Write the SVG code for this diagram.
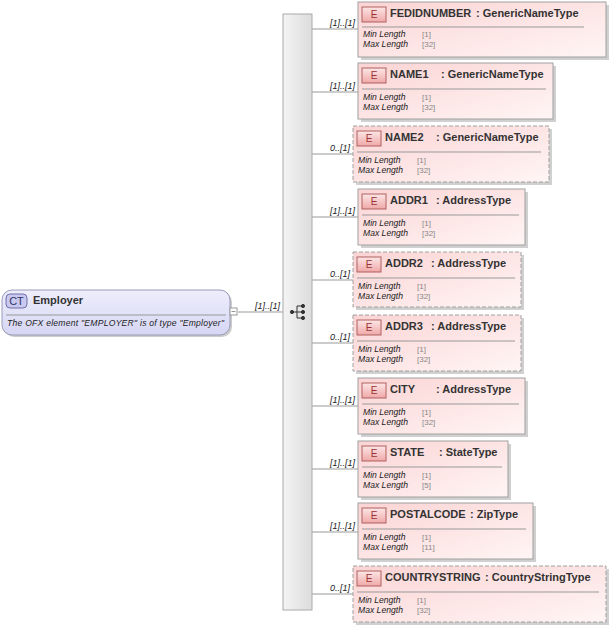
<svg xmlns="http://www.w3.org/2000/svg" width="610" height="628" viewBox="0 0 610 628">
<defs>
<linearGradient id="eg" x1="0" y1="0" x2="1" y2="1"><stop offset="0" stop-color="#fbd4d4"/><stop offset="1" stop-color="#fff5f5"/></linearGradient>
<linearGradient id="cg" x1="0" y1="0" x2="0" y2="1"><stop offset="0" stop-color="#eeeefc"/><stop offset="1" stop-color="#d6d6f4"/></linearGradient>
<linearGradient id="sg" x1="0" y1="0" x2="1" y2="0"><stop offset="0" stop-color="#f4f4f4"/><stop offset="1" stop-color="#dcdcdc"/></linearGradient>
<linearGradient id="bg" x1="0" y1="0" x2="0" y2="1"><stop offset="0" stop-color="#fce6e6"/><stop offset="1" stop-color="#f0a8a8"/></linearGradient>
</defs>
<style>
text{font-family:"Liberation Sans",Arial,sans-serif}
.box{fill:url(#eg);stroke:#a0a0a0;stroke-width:1}
.opt{stroke-dasharray:4,2}
.sh{fill:#d0d0d0}
.t{font-size:11px;font-weight:bold;fill:#333}
.f{font-size:8.6px;font-style:italic;fill:#222}
.v{font-size:8px;fill:#888}
.m{font-size:9px;font-style:italic;fill:#222}
.conn{stroke:#999;stroke-width:1;fill:none}
.badge{fill:url(#bg);stroke:#b06060}
.bt{font-size:10px;fill:#933;text-anchor:middle}
.sep{stroke:#999}
</style>
<g id="connectors">
<line class="conn" x1="238" y1="312" x2="283" y2="312"/>
<line class="conn" x1="312" y1="29" x2="358" y2="29"/>
<line class="conn" x1="312" y1="92" x2="358" y2="92"/>
<line class="conn" x1="312" y1="154" x2="353" y2="154"/>
<line class="conn" x1="312" y1="217" x2="358" y2="217"/>
<line class="conn" x1="312" y1="280" x2="353" y2="280"/>
<line class="conn" x1="312" y1="343" x2="353" y2="343"/>
<line class="conn" x1="312" y1="406" x2="358" y2="406"/>
<line class="conn" x1="312" y1="469" x2="358" y2="469"/>
<line class="conn" x1="312" y1="532" x2="358" y2="532"/>
<line class="conn" x1="312" y1="594" x2="353" y2="594"/>
<text class="m" x="255" y="309">[1]..[1]</text>
<text class="m" x="355" y="26" text-anchor="end">[1]..[1]</text>
<text class="m" x="355" y="89" text-anchor="end">[1]..[1]</text>
<text class="m" x="350" y="151" text-anchor="end">0..[1]</text>
<text class="m" x="355" y="214" text-anchor="end">[1]..[1]</text>
<text class="m" x="350" y="277" text-anchor="end">0..[1]</text>
<text class="m" x="350" y="340" text-anchor="end">0..[1]</text>
<text class="m" x="355" y="403" text-anchor="end">[1]..[1]</text>
<text class="m" x="355" y="466" text-anchor="end">[1]..[1]</text>
<text class="m" x="355" y="529" text-anchor="end">[1]..[1]</text>
<text class="m" x="350" y="591" text-anchor="end">0..[1]</text>
</g>
<g id="employer">
<rect x="4" y="292" width="228" height="45" rx="10" fill="#ccc"/>
<rect x="2" y="290" width="228" height="45" rx="10" fill="url(#cg)" stroke="#9a9ab8"/>
<rect x="6" y="294" width="21" height="14" rx="4" fill="#c8c8f0" stroke="#7070a8"/>
<text x="16.5" y="305" font-size="11" fill="#336" text-anchor="middle">CT</text>
<text class="t" x="33" y="304">Employer</text>
<line x1="6" y1="315" x2="226" y2="315" stroke="#999"/>
<text class="f" x="7" y="326" font-size="8.8px" textLength="217">The OFX element "EMPLOYER" is of type "Employer"</text>
<rect x="230" y="308" width="7" height="7" fill="#fff" stroke="#999"/>
<line x1="231.5" y1="311.5" x2="235.5" y2="311.5" stroke="#999"/>
</g>
<g id="sequence">
<rect x="283" y="14" width="29" height="596" fill="url(#sg)" stroke="#aaa"/>
<g fill="#333" stroke="#333">
<circle cx="292" cy="312" r="1.6"/>
<line x1="292" y1="312" x2="297" y2="312"/>
<line x1="297" y1="306" x2="297" y2="318"/>
<line x1="297" y1="306" x2="302" y2="306"/><line x1="297" y1="312" x2="302" y2="312"/><line x1="297" y1="318" x2="302" y2="318"/>
<circle cx="303" cy="306" r="1.6"/><circle cx="303" cy="312" r="1.6"/><circle cx="303" cy="318" r="1.6"/>
</g>
</g>
<g id="n1"><rect class="sh" x="361" y="5" width="248" height="55"/><rect class="box" x="358" y="2" width="248" height="55"/>
<rect class="badge" x="362" y="7" width="24" height="15"/><text class="bt" x="374" y="18">E</text>
<text class="t" x="390" y="17">FEDIDNUMBER</text><text class="t" x="476" y="17">: GenericNameType</text>
<line class="sep" x1="362" y1="27" x2="584" y2="27"/>
<text class="f" x="363" y="37">Min Length</text><text class="v" x="422" y="37">[1]</text>
<text class="f" x="363" y="47">Max Length</text><text class="v" x="422" y="47">[32]</text></g>
<g id="n2"><rect class="sh" x="361" y="66" width="195" height="56"/><rect class="box" x="358" y="63" width="195" height="56"/>
<rect class="badge" x="362" y="68" width="24" height="15"/><text class="bt" x="374" y="79">E</text>
<text class="t" x="390" y="78">NAME1</text><text class="t" x="441" y="78">: GenericNameType</text>
<line class="sep" x1="362" y1="89" x2="546" y2="89"/>
<text class="f" x="363" y="100">Min Length</text><text class="v" x="422" y="100">[1]</text>
<text class="f" x="363" y="110">Max Length</text><text class="v" x="422" y="110">[32]</text></g>
<g id="n3"><rect class="sh" x="356" y="129" width="196" height="56"/><rect class="box opt" x="353" y="126" width="196" height="56"/>
<rect class="badge" x="357" y="131" width="24" height="15"/><text class="bt" x="369" y="142">E</text>
<text class="t" x="385" y="141">NAME2</text><text class="t" x="436" y="141">: GenericNameType</text>
<line class="sep" x1="357" y1="152" x2="541" y2="152"/>
<text class="f" x="358" y="163">Min Length</text><text class="v" x="417" y="163">[1]</text>
<text class="f" x="358" y="173">Max Length</text><text class="v" x="417" y="173">[32]</text></g>
<g id="n4"><rect class="sh" x="361" y="192" width="167" height="56"/><rect class="box" x="358" y="189" width="167" height="56"/>
<rect class="badge" x="362" y="194" width="24" height="15"/><text class="bt" x="374" y="205">E</text>
<text class="t" x="390" y="204">ADDR1</text><text class="t" x="436" y="204">: AddressType</text>
<line class="sep" x1="362" y1="215" x2="519" y2="215"/>
<text class="f" x="363" y="226">Min Length</text><text class="v" x="422" y="226">[1]</text>
<text class="f" x="363" y="236">Max Length</text><text class="v" x="422" y="236">[32]</text></g>
<g id="n5"><rect class="sh" x="356" y="255" width="168" height="55"/><rect class="box opt" x="353" y="252" width="168" height="55"/>
<rect class="badge" x="357" y="257" width="24" height="15"/><text class="bt" x="369" y="268">E</text>
<text class="t" x="385" y="267">ADDR2</text><text class="t" x="431" y="267">: AddressType</text>
<line class="sep" x1="357" y1="278" x2="515" y2="278"/>
<text class="f" x="358" y="289">Min Length</text><text class="v" x="417" y="289">[1]</text>
<text class="f" x="358" y="299">Max Length</text><text class="v" x="417" y="299">[32]</text></g>
<g id="n6"><rect class="sh" x="356" y="318" width="168" height="56"/><rect class="box opt" x="353" y="315" width="168" height="56"/>
<rect class="badge" x="357" y="320" width="24" height="15"/><text class="bt" x="369" y="331">E</text>
<text class="t" x="385" y="330">ADDR3</text><text class="t" x="431" y="330">: AddressType</text>
<line class="sep" x1="357" y1="341" x2="515" y2="341"/>
<text class="f" x="358" y="352">Min Length</text><text class="v" x="417" y="352">[1]</text>
<text class="f" x="358" y="362">Max Length</text><text class="v" x="417" y="362">[32]</text></g>
<g id="n7"><rect class="sh" x="361" y="381" width="167" height="56"/><rect class="box" x="358" y="378" width="167" height="56"/>
<rect class="badge" x="362" y="383" width="24" height="15"/><text class="bt" x="374" y="394">E</text>
<text class="t" x="390" y="393">CITY</text><text class="t" x="436" y="393">: AddressType</text>
<line class="sep" x1="362" y1="404" x2="519" y2="404"/>
<text class="f" x="363" y="415">Min Length</text><text class="v" x="422" y="415">[1]</text>
<text class="f" x="363" y="425">Max Length</text><text class="v" x="422" y="425">[32]</text></g>
<g id="n8"><rect class="sh" x="361" y="444" width="150" height="56"/><rect class="box" x="358" y="441" width="150" height="56"/>
<rect class="badge" x="362" y="446" width="24" height="15"/><text class="bt" x="374" y="457">E</text>
<text class="t" x="390" y="456">STATE</text><text class="t" x="439" y="456">: StateType</text>
<line class="sep" x1="362" y1="467" x2="502" y2="467"/>
<text class="f" x="363" y="478">Min Length</text><text class="v" x="422" y="478">[1]</text>
<text class="f" x="363" y="488">Max Length</text><text class="v" x="422" y="488">[5]</text></g>
<g id="n9"><rect class="sh" x="361" y="506" width="175" height="56"/><rect class="box" x="358" y="503" width="175" height="56"/>
<rect class="badge" x="362" y="508" width="24" height="15"/><text class="bt" x="374" y="519">E</text>
<text class="t" x="390" y="518">POSTALCODE</text><text class="t" x="470" y="518">: ZipType</text>
<line class="sep" x1="362" y1="529" x2="526" y2="529"/>
<text class="f" x="363" y="540">Min Length</text><text class="v" x="422" y="540">[1]</text>
<text class="f" x="363" y="550">Max Length</text><text class="v" x="422" y="550">[11]</text></g>
<g id="n10"><rect class="sh" x="356" y="569" width="253" height="56"/><rect class="box opt" x="353" y="566" width="253" height="56"/>
<rect class="badge" x="357" y="571" width="24" height="15"/><text class="bt" x="369" y="582">E</text>
<text class="t" x="385" y="581">COUNTRYSTRING</text><text class="t" x="485" y="581">: CountryStringType</text>
<line class="sep" x1="357" y1="592" x2="599" y2="592"/>
<text class="f" x="358" y="603">Min Length</text><text class="v" x="417" y="603">[1]</text>
<text class="f" x="358" y="613">Max Length</text><text class="v" x="417" y="613">[32]</text></g>
</svg>
